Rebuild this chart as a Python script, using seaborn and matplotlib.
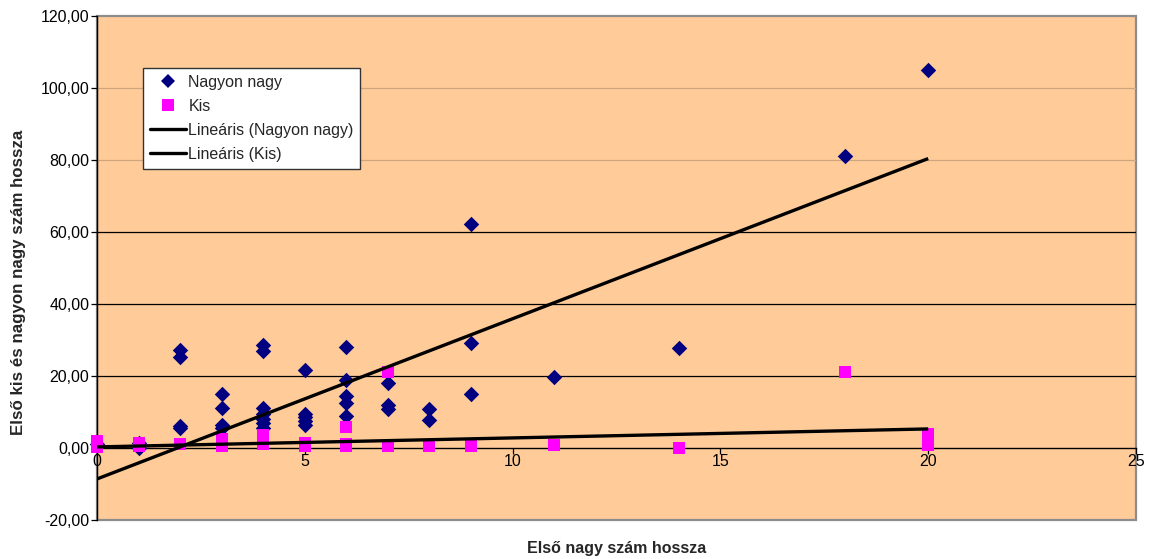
import numpy as np
import pandas as pd
import matplotlib
matplotlib.use("Agg")
import matplotlib.pyplot as plt
from matplotlib.lines import Line2D
from matplotlib.patches import Rectangle
import seaborn as sns

# "Nagyon nagy" series: length of first big number vs. first very big number
nagy_x = [0, 1, 1, 2, 2, 2, 2, 3, 3, 3, 3,
          4, 4, 4, 4, 4, 4, 4, 5, 5, 5, 5, 5,
          6, 6, 6, 6, 6, 7, 7, 7, 8, 8, 9, 9, 9, 11, 14, 18, 20]
nagy_y = [1.0, 1.5, 0.0, 27.3, 25.2, 6.0, 5.5, 15.0, 11.0, 6.5, 5.5,
          28.6, 26.9, 11.0, 9.5, 8.0, 7.0, 5.5, 21.7, 9.4, 8.5, 7.5, 6.5,
          28.0, 19.0, 14.5, 12.5, 9.0, 18.0, 12.0, 10.7, 10.8, 7.8, 62.2, 29.1, 15.0,
          19.8, 27.9, 81.1, 105.0]

# "Kis" series
kis_x = [0, 0, 1, 1, 2, 3, 3, 4, 4, 5, 5, 6, 6, 6, 7, 7, 8, 9, 11, 14, 18, 20, 20, 20]
kis_y = [2.0, 0.3, 1.5, 0.5, 1.0, 2.5, 0.5, 3.5, 1.0, 1.5, 0.5, 5.7, 1.0, 0.5,
         21.0, 0.5, 0.5, 0.5, 0.9, 0.0, 21.0, 4.0, 2.0, 0.8]

# Linear trend lines (slope, intercept)
nagy_trend = [4.45, -8.6]
kis_trend = [0.25, 0.3]

series_labels = ["Nagyon nagy", "Kis", "Lineáris (Nagyon nagy)", "Lineáris (Kis)"]
x_label = "Első nagy szám hossza"
y_label = "Első kis és nagyon nagy szám hossza"
x_ticks = [0, 5, 10, 15, 20, 25]
y_ticks = [-20, 0, 20, 40, 60, 80, 100, 120]

sns.set_style("white")
plt.rcParams["font.family"] = ["Liberation Sans", "DejaVu Sans"]

NAVY = "#000080"
MAGENTA = "#FF00FF"
PLOT_BG = "#FFCC99"
FS = 11.5

fig = plt.figure(figsize=(11.5, 5.59), dpi=100)
ax = fig.add_axes([97 / 1150, 39 / 559, 1039 / 1150, 504 / 559])
ax.set_facecolor(PLOT_BG)

df_nagy = pd.DataFrame({"x": nagy_x, "y": nagy_y})
df_kis = pd.DataFrame({"x": kis_x, "y": kis_y})

# horizontal gridlines
for v in y_ticks[2:-1]:
    col = "black" if v <= 60 else "#CFA57D"
    ax.axhline(v, color=col, lw=0.9, zorder=1)

sns.scatterplot(data=df_nagy, x="x", y="y", marker="D", s=62, color=NAVY,
                linewidth=0, ax=ax, zorder=3, clip_on=False, legend=False)
sns.scatterplot(data=df_kis, x="x", y="y", marker="s", s=78, color=MAGENTA,
                linewidth=0, ax=ax, zorder=4, clip_on=False, legend=False)

for xs, (slope, icpt) in ((nagy_x, nagy_trend), (kis_x, kis_trend)):
    xr = np.array([min(xs), max(xs)], dtype=float)
    ax.plot(xr, slope * xr + icpt, color="black", lw=2.4, zorder=5,
            solid_capstyle="butt")

ax.set_xlim(0, 25)
ax.set_ylim(-20, 120)
ax.set_xticks(x_ticks)
ax.set_xticklabels([str(t) for t in x_ticks])
ax.set_yticks(y_ticks)
ax.set_yticklabels([f"{t:.2f}".replace(".", ",") for t in y_ticks])

# axes cross at zero; the plot area keeps a grey frame
for side in ("top", "right"):
    ax.spines[side].set_visible(False)
ax.spines["bottom"].set_position(("data", 0))
ax.spines["bottom"].set_color("black")
ax.spines["bottom"].set_linewidth(1.0)
ax.spines["bottom"].set_zorder(2)
ax.spines["left"].set_color("black")
ax.spines["left"].set_linewidth(1.0)
ax.add_patch(Rectangle((0, 0), 1, 1, transform=ax.transAxes, fill=False,
                       edgecolor="#8C8C8C", lw=1.6, zorder=0.5, clip_on=False))

ax.tick_params(axis="both", direction="out", length=4, width=0.9, color="black",
               labelsize=FS, labelcolor="black", pad=1.5,
               bottom=True, left=True)
ax.tick_params(axis="x", pad=0.5)

ax.set_xlabel(x_label, fontsize=FS, fontweight="bold", va="center")
ax.set_ylabel(y_label, fontsize=12.2, fontweight="bold", va="center")
ax.xaxis.set_label_coords(0.5005, -0.056)
ax.yaxis.set_label_coords(-0.076, 0.472)

handles = [
    Line2D([], [], ls="none", marker="D", ms=7.0, color=NAVY, mew=0),
    Line2D([], [], ls="none", marker="s", ms=8.5, color=MAGENTA, mew=0),
    Line2D([], [], color="black", lw=2.4),
    Line2D([], [], color="black", lw=2.4),
]
leg = ax.legend(handles, series_labels, loc="upper left",
                bbox_to_anchor=(46 / 1039, 1 - 52 / 504), frameon=True,
                fancybox=False, fontsize=FS, handlelength=2.3,
                handletextpad=0.12, borderpad=0.42, labelspacing=0.57,
                borderaxespad=0)
leg.get_frame().set_edgecolor("#333333")
leg.get_frame().set_linewidth(1.0)
leg.get_frame().set_facecolor("white")
leg.get_frame().set_alpha(1)
leg.set_zorder(10)

fig.savefig("out.png", dpi=100, facecolor="white")
